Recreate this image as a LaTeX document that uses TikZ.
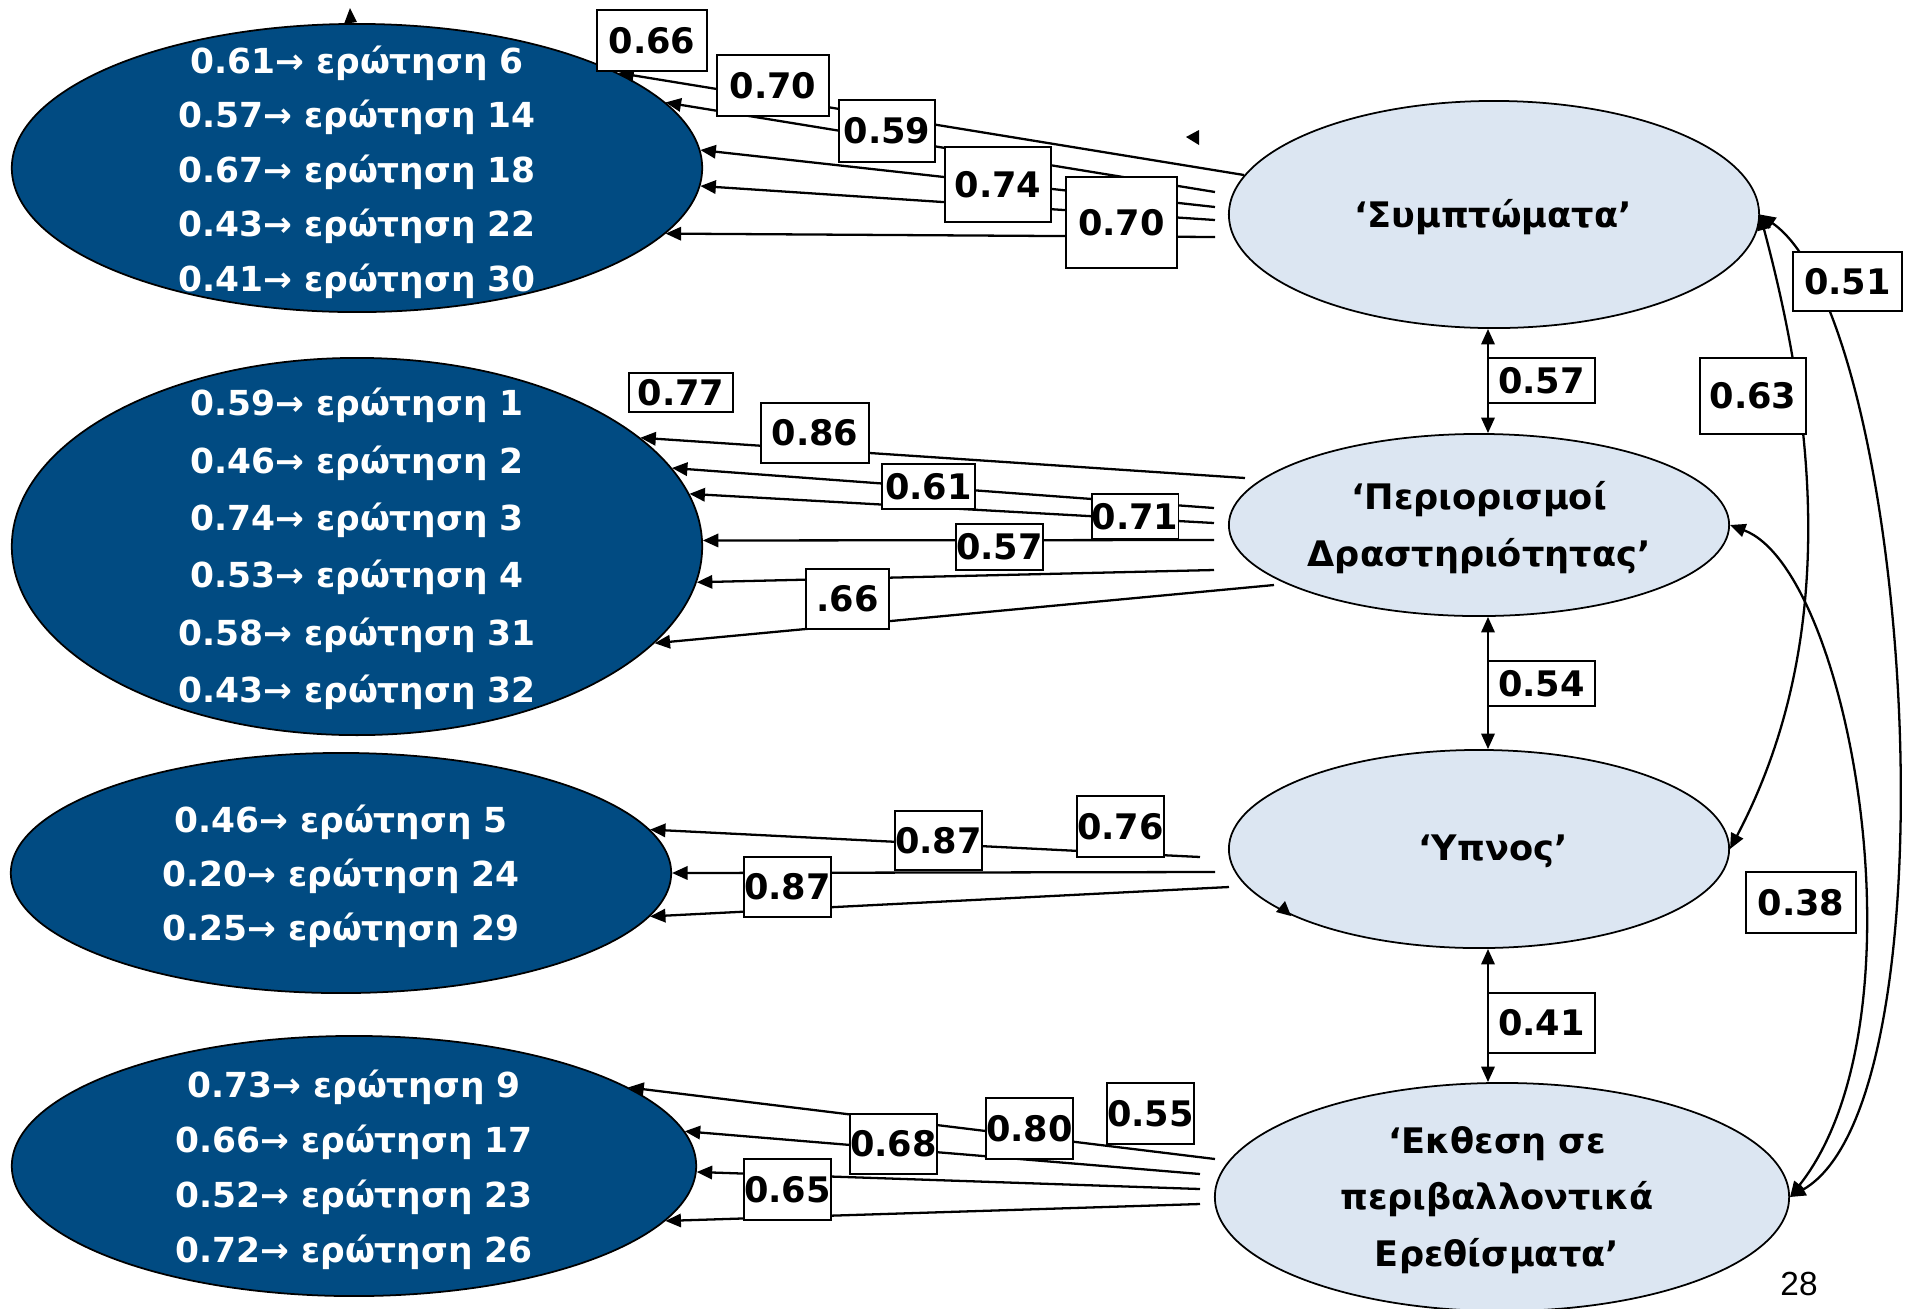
\documentclass[tikz,border=0pt]{standalone}
\usepackage{fontspec}
\setmainfont{DejaVu Sans}
\newfontfamily\numfont{Liberation Sans}
\usetikzlibrary{shapes.geometric,arrows.meta}
\definecolor{darkfill}{HTML}{014B82}
\definecolor{lightfill}{HTML}{DCE6F2}
\begin{document}
\begin{tikzpicture}[x=0.01cm,y=-0.01cm,
  lat/.style={ellipse,draw=black,line width=0.5pt,fill=lightfill,inner sep=0pt},
  ind/.style={ellipse,draw=black,line width=0.5pt,fill=darkfill,inner sep=0pt},
  itxt/.style={text=white,align=center,inner sep=0pt},
  ltxt/.style={font=\fontsize{10}{16.2}\selectfont\bfseries,align=center,inner sep=0pt},
  conn/.style={line width=0.65pt,-{Triangle[length=4.4pt,width=3.8pt]}},
  biconn/.style={line width=0.65pt,{Triangle[length=4.4pt,width=3.8pt]}-{Triangle[length=4.4pt,width=3.8pt]}},
  lbl/.style={draw=black,line width=0.5pt,fill=white,inner sep=0pt,font=\fontsize{10}{12}\selectfont\bfseries},
]
\useasboundingbox (0,0) rectangle (1905,1308);
\fill[white] (0,0) rectangle (1905,1308);

% indicator ellipses (left)
\node[ind,minimum width=6.9cm,minimum height=2.88cm] (L1) at (357,168) {};
\node[ind,minimum width=6.9cm,minimum height=3.77cm] (L2) at (357,546.5) {};
\node[ind,minimum width=6.6cm,minimum height=2.40cm] (L3) at (341,873) {};
\node[ind,minimum width=6.84cm,minimum height=2.60cm] (L4) at (354,1166) {};

\node[itxt,font=\fontsize{9.8}{15.5}\selectfont\bfseries] (T1) at (357,172)
  {0.61→ ερώτηση 6\\0.57→ ερώτηση 14\\0.67→ ερώτηση 18\\0.43→ ερώτηση 22\\0.41→ ερώτηση 30};
\node[itxt,font=\fontsize{9.8}{16.3}\selectfont\bfseries] (T2) at (357,549)
  {0.59→ ερώτηση 1\\0.46→ ερώτηση 2\\0.74→ ερώτηση 3\\0.53→ ερώτηση 4\\0.58→ ερώτηση 31\\0.43→ ερώτηση 32};
\node[itxt,font=\fontsize{9.8}{15.3}\selectfont\bfseries] (T3) at (341,876)
  {0.46→ ερώτηση 5\\0.20→ ερώτηση 24\\0.25→ ερώτηση 29};
\node[itxt,font=\fontsize{9.8}{15.6}\selectfont\bfseries] (T4) at (354,1170)
  {0.73→ ερώτηση 9\\0.66→ ερώτηση 17\\0.52→ ερώτηση 23\\0.72→ ερώτηση 26};

% latent ellipses (right)
\node[lat,minimum width=5.3cm,minimum height=2.27cm] (S) at (1494,214.5) {};
\node[lat,minimum width=5.0cm,minimum height=1.82cm] (P) at (1479,525) {};
\node[lat,minimum width=5.0cm,minimum height=1.98cm] (U) at (1479,849) {};
\node[lat,minimum width=5.74cm,minimum height=2.28cm] (E) at (1502,1197) {};

\node[ltxt] (TS) at (1493,217) {‘Συμπτώματα’};
\node[ltxt] (TP) at (1479,528) {‘Περιορισμοί\\Δραστηριότητας’};
\node[ltxt] (TU) at (1493,851) {‘Υπνος’};
\node[ltxt,font=\fontsize{10}{16}\selectfont\bfseries] (TE) at (1497,1200) {‘Εκθεση σε\\περιβαλλοντικά\\Ερεθίσματα’};

% start points of loadings
\coordinate (s1a) at (1244,175);
\coordinate (s1b) at (1215,192);
\coordinate (s1c) at (1215,207);
\coordinate (s1d) at (1215,220);
\coordinate (s1e) at (1215,237);
\coordinate (s2a) at (1245,478);
\coordinate (s2b) at (1214,508);
\coordinate (s2c) at (1214,523);
\coordinate (s2d) at (1214,540);
\coordinate (s2e) at (1214,570);
\coordinate (s2f) at (1274,585);
\coordinate (s3a) at (1200,857);
\coordinate (s3b) at (1215,872);
\coordinate (s3c) at (1229,887);
\coordinate (s4a) at (1215,1159);
\coordinate (s4b) at (1200,1174);
\coordinate (s4c) at (1200,1189);
\coordinate (s4d) at (1200,1204);

\draw[conn] (s1a) -- (L1.20.9);
\draw[conn] (s1b) -- (L1.12.7);
\draw[conn] (s1c) -- (L1.3.5);
\draw[conn] (s1d) -- (L1.-3.9);
\draw[conn] (s1e) -- (L1.-12.9);

\draw[conn] (s2a) -- (L2.21.5);
\draw[conn] (s2b) -- (L2.14.7);
\draw[conn] (s2c) -- (L2.9);
\draw[conn] (s2d) -- (L2.1.1);
\draw[conn] (s2e) -- (L2.-6.7);
\draw[conn] (s2f) -- (L2.-18.7);

\draw[conn] (s3a) -- (L3.8.3);
\draw[conn] (s3b) -- (L3.0);
\draw[conn] (s3c) -- (L3.-8.3);

\draw[conn] (s4a) -- (L4.16.9);
\draw[conn] (s4b) -- (L4.6.2);
\draw[conn] (s4c) -- (L4.-1.5);
\draw[conn] (s4d) -- (L4.-10.1);

% correlations between latent factors
\coordinate (vx) at (1488,0);
\draw[biconn] (S.south -| vx) -- (P.north -| vx);
\draw[biconn] (P.south -| vx) -- (U.north -| vx);
\draw[biconn] (U.south -| vx) -- (E.north -| vx);
\draw[biconn] (S.east) .. controls (1815,420) and (1840,640) .. (U.east);
\draw[biconn] (S.east) .. controls (1912,320) and (1960,1100) .. (E.east);
\draw[biconn] (P.east) .. controls (1850,570) and (1930,1020) .. (E.east);

% stray arrowheads
\fill (350,8) -- (344,24) -- (357,22) -- cycle;
\fill (1186,137) -- (1199,130) -- (1199,145) -- cycle;
\fill (1291,916) -- (1276,912) -- (1285,901) -- cycle;

% labels
\node[lbl,minimum width=1.10cm,minimum height=0.61cm] (b066) at (652,40.5) {0.66};
\node[lbl,minimum width=1.12cm,minimum height=0.61cm] (b070a) at (773,85.5) {0.70};
\node[lbl,minimum width=0.96cm,minimum height=0.62cm] (b059) at (887,131) {0.59};
\node[lbl,minimum width=1.06cm,minimum height=0.75cm] (b074) at (998,184.5) {0.74};
\node[lbl,minimum width=1.11cm,minimum height=0.91cm] (b070b) at (1121.5,222.5) {0.70};

\node[lbl,minimum width=1.04cm,minimum height=0.39cm] (b077) at (681,392.5) {0.77};
\node[lbl,minimum width=1.08cm,minimum height=0.60cm] (b086) at (815,433) {0.86};
\node[lbl,minimum width=0.93cm,minimum height=0.45cm] (b061) at (928.5,486.5) {0.61};
\node[lbl,minimum width=0.84cm,minimum height=0.45cm] (b071) at (1135,516.5) {0.71};
\node[lbl,minimum width=0.83cm,minimum height=0.46cm] (b057) at (999.5,547) {0.57};
\node[lbl,minimum width=0.83cm,minimum height=0.60cm] (b066b) at (847.5,599) {.66};

\node[lbl,minimum width=0.83cm,minimum height=0.59cm] (b087a) at (938.5,840.5) {0.87};
\node[lbl,minimum width=0.83cm,minimum height=0.61cm] (b076) at (1120.5,826.5) {0.76};
\node[lbl,minimum width=0.83cm,minimum height=0.60cm] (b087b) at (787.5,887) {0.87};

\node[lbl,minimum width=0.83cm,minimum height=0.60cm] (b068) at (893.5,1144) {0.68};
\node[lbl,minimum width=0.83cm,minimum height=0.61cm] (b080) at (1029.5,1128.5) {0.80};
\node[lbl,minimum width=0.83cm,minimum height=0.61cm] (b055) at (1150.5,1113.5) {0.55};
\node[lbl,minimum width=0.83cm,minimum height=0.61cm] (b065) at (787.5,1189.5) {0.65};

\node[lbl,minimum width=1.07cm,minimum height=0.45cm] (b057v) at (1541.5,380.5) {0.57};
\node[lbl,minimum width=1.07cm,minimum height=0.45cm] (b054) at (1541.5,683.5) {0.54};
\node[lbl,minimum width=1.07cm,minimum height=0.60cm] (b041) at (1541.5,1023) {0.41};
\node[lbl,minimum width=1.09cm,minimum height=0.59cm] (b051) at (1847.5,281.5) {0.51};
\node[lbl,minimum width=1.06cm,minimum height=0.76cm] (b063) at (1753,396) {0.63};
\node[lbl,minimum width=1.10cm,minimum height=0.61cm] (b038) at (1801,902.5) {0.38};

\node[font=\numfont\fontsize{9.5}{11}\selectfont,inner sep=0pt] (pg) at (1799,1284) {28};
\end{tikzpicture}
\end{document}
